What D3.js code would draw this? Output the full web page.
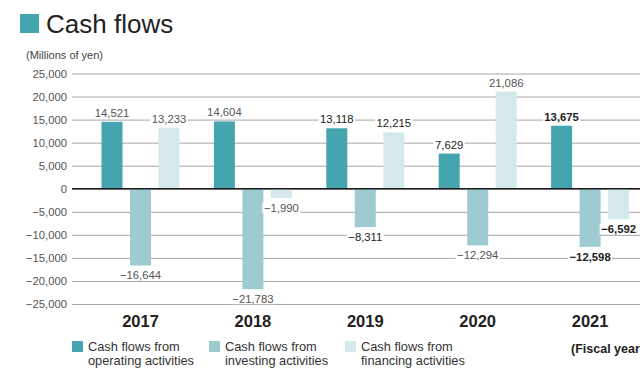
<!DOCTYPE html>
<html>
<head>
<meta charset="utf-8">
<script src="https://cdn.jsdelivr.net/npm/d3@7/dist/d3.min.js"></script>
<style>
  html, body { margin: 0; padding: 0; background: #fff; }
  svg { display: block; font-family: "Liberation Sans", Arial, Helvetica, sans-serif; }
</style>
</head>
<body>
<svg id="chart" width="640" height="368"></svg>
<script>
// Fiscal years and cash-flow series (millions of yen)
const years = ["2017", "2018", "2019", "2020", "2021"];
const seriesKeys = ["operating", "investing", "financing"];
const seriesNames = [
  ["Cash flows from", "operating activities"],
  ["Cash flows from", "investing activities"],
  ["Cash flows from", "financing activities"]
];
const operating = [14521, 14604, 13118, 7629, 13675];
const investing = [-16644, -21783, -8311, -12294, -12598];
const financing = [13233, -1990, 12215, 21086, -6592];
const yTicks = [25000, 20000, 15000, 10000, 5000, 0, -5000, -10000, -15000, -20000, -25000];

const colors = { operating: "#45a5ae", investing: "#9ecbd2", financing: "#d5e8ec" };
const valuesByKey = { operating, investing, financing };

const svg = d3.select("#chart");
const fmt = d3.format(",");

// Scales
const x = d3.scaleBand().domain(years).range([84.3, 646.3]).padding(0);
const xs = d3.scaleBand().domain(seriesKeys).range([-42.75, 42.75])
  .paddingInner(0.263).paddingOuter(0.1315);
const y = d3.scaleLinear().domain([-25000, 25000]).range([304, 73.5]);

// Title
svg.append("rect").attr("x", 20).attr("y", 14).attr("width", 19).attr("height", 19)
  .attr("fill", colors.operating);
svg.append("text").attr("x", 46).attr("y", 33).attr("font-size", 26)
  .attr("fill", "#222").text("Cash flows");

svg.append("text").attr("x", 26).attr("y", 59).attr("font-size", 11)
  .attr("fill", "#444").text("(Millions of yen)");

// Y axis: gridlines and tick labels
const yAxis = d3.axisLeft(y).tickValues(yTicks).tickFormat(fmt)
  .tickSize(-(640 - 72)).tickPadding(5);
const gAxis = svg.append("g").attr("transform", "translate(72,0)").call(yAxis);
gAxis.select(".domain").remove();
gAxis.selectAll(".tick line").attr("stroke", "#a6a6a6").attr("stroke-width", 1);
gAxis.selectAll(".tick text").attr("font-size", 11.3).attr("fill", "#555")
  .attr("font-family", "'Liberation Sans', Arial, sans-serif");

// Bars
const groups = svg.append("g").selectAll("g").data(years).join("g")
  .attr("transform", d => `translate(${x(d) + x.bandwidth() / 2},0)`);

groups.selectAll("rect").data((yr, i) => seriesKeys.map(k => ({ key: k, value: valuesByKey[k][i], year: yr })))
  .join("rect")
  .attr("x", d => xs(d.key))
  .attr("width", xs.bandwidth())
  .attr("y", d => y(Math.max(0, d.value)))
  .attr("height", d => Math.abs(y(d.value) - y(0)))
  .attr("fill", d => colors[d.key]);

// Zero line
svg.append("line").attr("x1", 72).attr("x2", 640).attr("y1", y(0)).attr("y2", y(0))
  .attr("stroke", "#1a1a1a").attr("stroke-width", 1.5);

// Value labels with white backing that breaks the gridlines
const darkLabels = new Set(["2019", "2021", "2020-operating"]);
const labelLayer = svg.append("g");
years.forEach((yr, i) => {
  seriesKeys.forEach(k => {
    const v = valuesByKey[k][i];
    const cx = x(yr) + x.bandwidth() / 2 + xs(k) + xs.bandwidth() / 2;
    const by = v >= 0 ? y(v) - 5 : y(v) + 14;
    const dark = darkLabels.has(yr) || darkLabels.has(yr + "-" + k);
    const g = labelLayer.append("g");
    const t = g.append("text").attr("x", cx).attr("y", by).attr("text-anchor", "middle")
      .attr("font-size", 11.3)
      .attr("font-weight", yr === "2021" ? "bold" : "normal")
      .attr("fill", dark ? "#222" : "#555")
      .text(fmt(v));
    const bb = t.node().getBBox();
    g.insert("rect", "text").attr("x", bb.x - 1.5).attr("y", bb.y + 1)
      .attr("width", bb.width + 3).attr("height", bb.height - 2).attr("fill", "#fff");
  });
});

// Year labels
svg.append("g").selectAll("text").data(years).join("text")
  .attr("x", d => x(d) + x.bandwidth() / 2)
  .attr("y", 327)
  .attr("text-anchor", "middle")
  .attr("font-size", 16.5).attr("font-weight", "bold").attr("fill", "#222")
  .text(d => d);

// Legend
const legendX = [72, 209, 345];
seriesKeys.forEach((k, i) => {
  svg.append("rect").attr("x", legendX[i]).attr("y", 341).attr("width", 11).attr("height", 11)
    .attr("fill", colors[k]);
  const t = svg.append("text").attr("x", legendX[i] + 16).attr("y", 350.5)
    .attr("font-size", 12.8).attr("fill", "#333");
  t.append("tspan").attr("x", legendX[i] + 16).text(seriesNames[i][0]);
  t.append("tspan").attr("x", legendX[i] + 16).attr("dy", 14).text(seriesNames[i][1]);
});

svg.append("text").attr("x", 571).attr("y", 352.5).attr("font-size", 12.5)
  .attr("font-weight", "bold").attr("fill", "#222").text("(Fiscal year)");
</script>
</body>
</html>
